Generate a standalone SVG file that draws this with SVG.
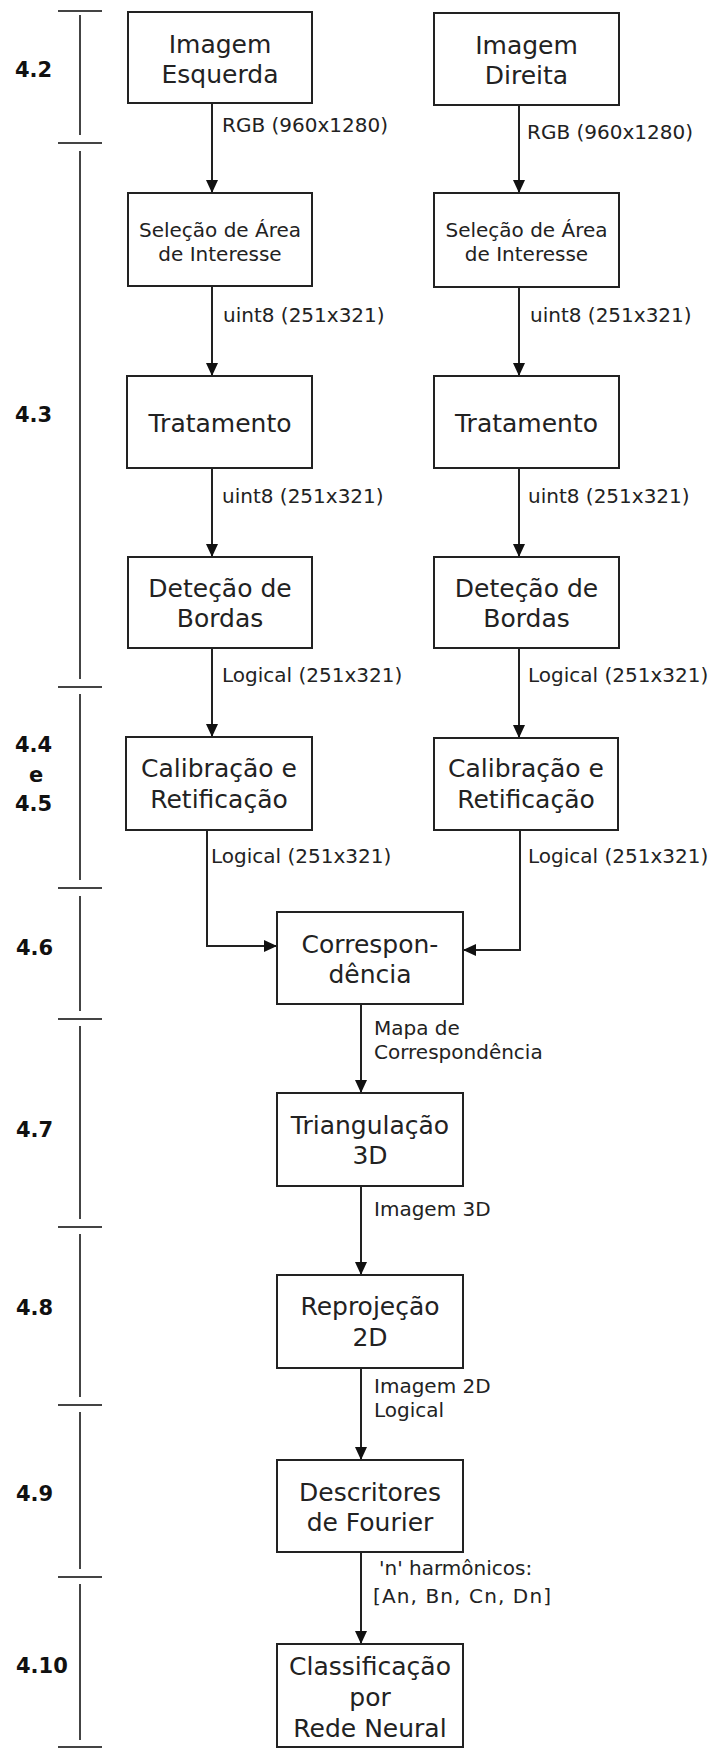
<svg xmlns="http://www.w3.org/2000/svg" width="713" height="1748" viewBox="0 0 713 1748">
<style>
  .box{fill:#fff;stroke:#222;stroke-width:2}
  .t{font-family:"DejaVu Sans","Liberation Sans",sans-serif;font-size:25px;fill:#222;text-anchor:middle}
  .ts{font-family:"DejaVu Sans","Liberation Sans",sans-serif;font-size:20px;fill:#222;text-anchor:middle}
  .lbl{font-family:"DejaVu Sans","Liberation Sans",sans-serif;font-size:20px;fill:#222}
  .sec{font-family:"DejaVu Sans","Liberation Sans",sans-serif;font-size:21px;font-weight:bold;fill:#111}
  .con{fill:none;stroke:#222;stroke-width:2}
  .scale{fill:none;stroke:#444;stroke-width:2}
</style>
<defs>
  <marker id="ah" markerUnits="userSpaceOnUse" markerWidth="14" markerHeight="13" refX="13" refY="6" orient="auto">
    <path d="M0,0 L13,6 L0,12 z" fill="#111"/>
  </marker>
</defs>
<rect width="713" height="1748" fill="#fff"/>

<g id="scale">
  <path class="scale" d="M58,11 H102 M58,143 H102 M58,687 H102 M58,888 H102 M58,1019 H102 M58,1227 H102 M58,1405 H102 M58,1577 H102 M58,1747 H102"/>
  <path class="scale" d="M80,15 V135 M80,151 V679 M80,694 V880 M80,896 V1011 M80,1026 V1219 M80,1234 V1397 M80,1412 V1569 M80,1584 V1740"/>
  <text class="sec" x="15" y="77">4.2</text>
  <text class="sec" x="15" y="422">4.3</text>
  <text class="sec" x="15" y="752">4.4</text>
  <text class="sec" x="36" y="782" text-anchor="middle">e</text>
  <text class="sec" x="15" y="811">4.5</text>
  <text class="sec" x="16" y="955">4.6</text>
  <text class="sec" x="16" y="1137">4.7</text>
  <text class="sec" x="16" y="1315">4.8</text>
  <text class="sec" x="16" y="1501">4.9</text>
  <text class="sec" x="16" y="1673">4.10</text>
</g>

<g id="connectors">
  <line class="con" x1="212" y1="103" x2="212" y2="193" marker-end="url(#ah)"/>
  <line class="con" x1="212" y1="286" x2="212" y2="376" marker-end="url(#ah)"/>
  <line class="con" x1="212" y1="468" x2="212" y2="557" marker-end="url(#ah)"/>
  <line class="con" x1="212" y1="648" x2="212" y2="737" marker-end="url(#ah)"/>
  <path class="con" d="M207,830 V946 H277" marker-end="url(#ah)"/>
  <line class="con" x1="519" y1="105" x2="519" y2="193" marker-end="url(#ah)"/>
  <line class="con" x1="519" y1="287" x2="519" y2="376" marker-end="url(#ah)"/>
  <line class="con" x1="519" y1="468" x2="519" y2="557" marker-end="url(#ah)"/>
  <line class="con" x1="519" y1="648" x2="519" y2="738" marker-end="url(#ah)"/>
  <path class="con" d="M520,830 V950 H463" marker-end="url(#ah)"/>
  <line class="con" x1="361" y1="1004" x2="361" y2="1093" marker-end="url(#ah)"/>
  <line class="con" x1="361" y1="1186" x2="361" y2="1275" marker-end="url(#ah)"/>
  <line class="con" x1="361" y1="1368" x2="361" y2="1460" marker-end="url(#ah)"/>
  <line class="con" x1="361" y1="1552" x2="361" y2="1644" marker-end="url(#ah)"/>
  <text class="lbl" x="222" y="132">RGB (960x1280)</text>
  <text class="lbl" x="527" y="139">RGB (960x1280)</text>
  <text class="lbl" x="223" y="322">uint8 (251x321)</text>
  <text class="lbl" x="530" y="322">uint8 (251x321)</text>
  <text class="lbl" x="222" y="503">uint8 (251x321)</text>
  <text class="lbl" x="528" y="503">uint8 (251x321)</text>
  <text class="lbl" x="222" y="682">Logical (251x321)</text>
  <text class="lbl" x="528" y="682">Logical (251x321)</text>
  <text class="lbl" x="211" y="863">Logical (251x321)</text>
  <text class="lbl" x="528" y="863">Logical (251x321)</text>
  <text class="lbl" x="374" y="1035">Mapa de</text>
  <text class="lbl" x="374" y="1059">Correspondência</text>
  <text class="lbl" x="374" y="1216">Imagem 3D</text>
  <text class="lbl" x="374" y="1393">Imagem 2D</text>
  <text class="lbl" x="374" y="1417">Logical</text>
  <text class="lbl" x="379" y="1575">'n' harmônicos:</text>
  <text class="lbl" x="373" y="1603" textLength="178" lengthAdjust="spacing">[An, Bn, Cn, Dn]</text>
</g>

<g id="imagem-esquerda">
  <rect class="box" x="128" y="12" width="184" height="91"/>
  <text class="t" x="220" y="53">Imagem</text>
  <text class="t" x="220" y="83">Esquerda</text>
</g>
<g id="imagem-direita">
  <rect class="box" x="434" y="13" width="185" height="92"/>
  <text class="t" x="526.5" y="54">Imagem</text>
  <text class="t" x="526.5" y="84">Direita</text>
</g>
<g id="selecao-esq">
  <rect class="box" x="128" y="193" width="184" height="93"/>
  <text class="ts" x="220" y="237">Seleção de Área</text>
  <text class="ts" x="220" y="261">de Interesse</text>
</g>
<g id="selecao-dir">
  <rect class="box" x="434" y="193" width="185" height="94"/>
  <text class="ts" x="526.5" y="237">Seleção de Área</text>
  <text class="ts" x="526.5" y="261">de Interesse</text>
</g>
<g id="tratamento-esq">
  <rect class="box" x="127" y="376" width="185" height="92"/>
  <text class="t" x="220" y="432">Tratamento</text>
</g>
<g id="tratamento-dir">
  <rect class="box" x="434" y="376" width="185" height="92"/>
  <text class="t" x="526.5" y="432">Tratamento</text>
</g>
<g id="deteccao-esq">
  <rect class="box" x="128" y="557" width="184" height="91"/>
  <text class="t" x="220" y="597">Deteção de</text>
  <text class="t" x="220" y="627">Bordas</text>
</g>
<g id="deteccao-dir">
  <rect class="box" x="434" y="557" width="185" height="91"/>
  <text class="t" x="526.5" y="597">Deteção de</text>
  <text class="t" x="526.5" y="627">Bordas</text>
</g>
<g id="calibracao-esq">
  <rect class="box" x="126" y="737" width="186" height="93"/>
  <text class="t" x="219" y="777">Calibração e</text>
  <text class="t" x="219" y="808">Retificação</text>
</g>
<g id="calibracao-dir">
  <rect class="box" x="434" y="738" width="184" height="92"/>
  <text class="t" x="526" y="777">Calibração e</text>
  <text class="t" x="526" y="808">Retificação</text>
</g>
<g id="correspondencia">
  <rect class="box" x="277" y="912" width="186" height="92"/>
  <text class="t" x="370" y="953">Correspon-</text>
  <text class="t" x="370" y="983">dência</text>
</g>
<g id="triangulacao">
  <rect class="box" x="277" y="1093" width="186" height="93"/>
  <text class="t" x="370" y="1134">Triangulação</text>
  <text class="t" x="370" y="1164">3D</text>
</g>
<g id="reprojecao">
  <rect class="box" x="277" y="1275" width="186" height="93"/>
  <text class="t" x="370" y="1315">Reprojeção</text>
  <text class="t" x="370" y="1346">2D</text>
</g>
<g id="descritores">
  <rect class="box" x="277" y="1460" width="186" height="92"/>
  <text class="t" x="370" y="1501">Descritores</text>
  <text class="t" x="370" y="1531">de Fourier</text>
</g>
<g id="classificacao">
  <rect class="box" x="277" y="1644" width="186" height="103"/>
  <text class="t" x="370" y="1675">Classificação</text>
  <text class="t" x="370" y="1706">por</text>
  <text class="t" x="370" y="1737">Rede Neural</text>
</g>
</svg>
